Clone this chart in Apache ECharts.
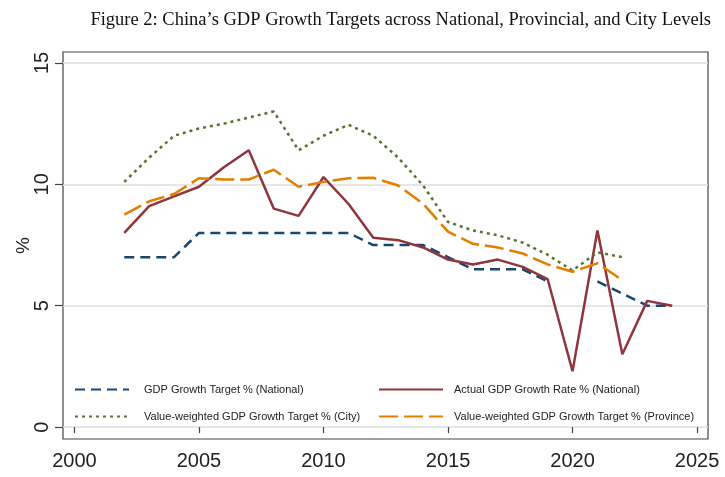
<!DOCTYPE html>
<html>
<head>
<meta charset="utf-8">
<title>China GDP Growth Targets</title>
<script src="https://cdn.jsdelivr.net/npm/echarts@6/dist/echarts.min.js"></script>
<style>
  html, body { margin: 0; padding: 0; background: #fff; }
  #main { width: 725px; height: 477px; }
</style>
</head>
<body>
<div id="main"></div>
<script>
// years shown on the chart
var years = [2002, 2003, 2004, 2005, 2006, 2007, 2008, 2009, 2010, 2011, 2012, 2013,
             2014, 2015, 2016, 2017, 2018, 2019, 2020, 2021, 2022, 2023, 2024];

// values (null = no value that year)
var targetNational = [7, 7, 7, 8, 8, 8, 8, 8, 8, 8, 7.5, 7.5,
                      7.5, 7, 6.5, 6.5, 6.5, 6, null, 6, 5.5, 5, 5];
var actualNational = [8.0, 9.1, 9.5, 9.9, 10.7, 11.4, 9.0, 8.7, 10.3, 9.2, 7.8, 7.7,
                      7.4, 6.9, 6.7, 6.9, 6.6, 6.1, 2.3, 8.1, 3.0, 5.2, 5.0];
var targetCity = [10.1, 11.1, 12.0, 12.3, 12.5, 12.75, 13.0, 11.4, 12.0, 12.45, 12.0, 11.1,
                  9.95, 8.45, 8.1, 7.9, 7.6, 7.1, 6.45, 7.2, 7.0, null, null];
var targetProvince = [8.75, 9.3, 9.6, 10.25, 10.2, 10.2, 10.6, 9.9, 10.1, 10.25, 10.27, 9.95,
                      9.2, 8.05, 7.55, 7.4, 7.15, 6.7, 6.4, 6.75, 6.05, null, null];

var xTicks = [2000, 2005, 2010, 2015, 2020, 2025];
var yTicks = [0, 5, 10, 15];

var names = [
  'GDP Growth Target % (National)',
  'Actual GDP Growth Rate % (National)',
  'Value-weighted GDP Growth Target % (City)',
  'Value-weighted GDP Growth Target % (Province)'
];

function pairs(vals) {
  return years.map(function (y, i) { return [y, vals[i]]; });
}

var chart = echarts.init(document.getElementById('main'));

// one legend per entry so the 2x2 layout sits where Stata put it
function legendAt(name, left, top, w, gap) {
  return {
    data: [name],
    left: left,
    top: top,
    padding: 0,
    itemWidth: w,
    itemHeight: 14,
    selectedMode: false,
    itemStyle: { opacity: 0, borderWidth: 0 },  // hide the circle, keep the line
    textStyle: {
      fontFamily: 'Liberation Sans',
      fontSize: 11,
      color: '#222',
      padding: [0, 0, 0, gap]
    }
  };
}

chart.setOption({
  animation: false,
  backgroundColor: '#fff',
  title: {
    text: 'Figure 2: China\u2019s GDP Growth Targets across National, Provincial, and City Levels',
    right: 9,
    top: 6,
    textStyle: {
      fontFamily: 'Liberation Serif',
      fontSize: 18.5,
      fontWeight: 'normal',
      color: '#111'
    }
  },
  legend: [
    legendAt(names[0], 74, 384, 54, 10),
    legendAt(names[1], 378, 384, 64, 6),
    legendAt(names[2], 74, 411, 54, 10),
    legendAt(names[3], 378, 411, 64, 6)
  ],
  grid: {
    left: 63,
    right: 17,
    top: 52,
    bottom: 38,
    outerBoundsMode: 'none',
    show: true,
    borderColor: '#444',
    borderWidth: 1.2
  },
  xAxis: {
    type: 'value',
    min: 1999.54,
    max: 2025.44,
    axisLine: { show: false },
    splitLine: { show: false },
    axisTick: {
      customValues: xTicks,
      length: 6,
      lineStyle: { color: '#444', width: 1.2 }
    },
    axisLabel: {
      customValues: xTicks,
      formatter: function (v) { return String(v); },
      margin: 12,
      fontFamily: 'Liberation Sans',
      fontSize: 20,
      color: '#222'
    }
  },
  yAxis: {
    type: 'value',
    min: -0.49,
    max: 15.45,
    name: '%',
    nameLocation: 'middle',
    nameRotate: 90,
    nameGap: 30,
    nameMoveOverlap: false,
    nameTextStyle: {
      fontFamily: 'Liberation Sans',
      fontSize: 19,
      color: '#222'
    },
    axisLine: { show: false },
    axisTick: {
      customValues: yTicks,
      length: 8,
      lineStyle: { color: '#444', width: 1.2 }
    },
    axisLabel: {
      customValues: yTicks,
      rotate: 90,
      margin: 11,
      fontFamily: 'Liberation Sans',
      fontSize: 20,
      color: '#222'
    },
    splitLine: {
      show: true,
      lineStyle: { color: '#dedede', width: 1.5 }
    }
  },
  series: [
    {
      name: names[0],
      type: 'line',
      symbol: 'none',
      data: pairs(targetNational),
      lineStyle: { color: '#1a476f', width: 2.5, type: [10, 6] },
      itemStyle: { color: '#1a476f' }
    },
    {
      name: names[1],
      type: 'line',
      symbol: 'none',
      data: pairs(actualNational),
      lineStyle: { color: '#90353b', width: 2.5, type: 'solid' },
      itemStyle: { color: '#90353b' }
    },
    {
      name: names[2],
      type: 'line',
      symbol: 'none',
      data: pairs(targetCity),
      lineStyle: { color: '#55752f', width: 2.5, type: [3, 4] },
      itemStyle: { color: '#55752f' }
    },
    {
      name: names[3],
      type: 'line',
      symbol: 'none',
      data: pairs(targetProvince),
      lineStyle: { color: '#e37e00', width: 2.5, type: [19, 6] },
      itemStyle: { color: '#e37e00' }
    }
  ]
});
</script>
</body>
</html>
